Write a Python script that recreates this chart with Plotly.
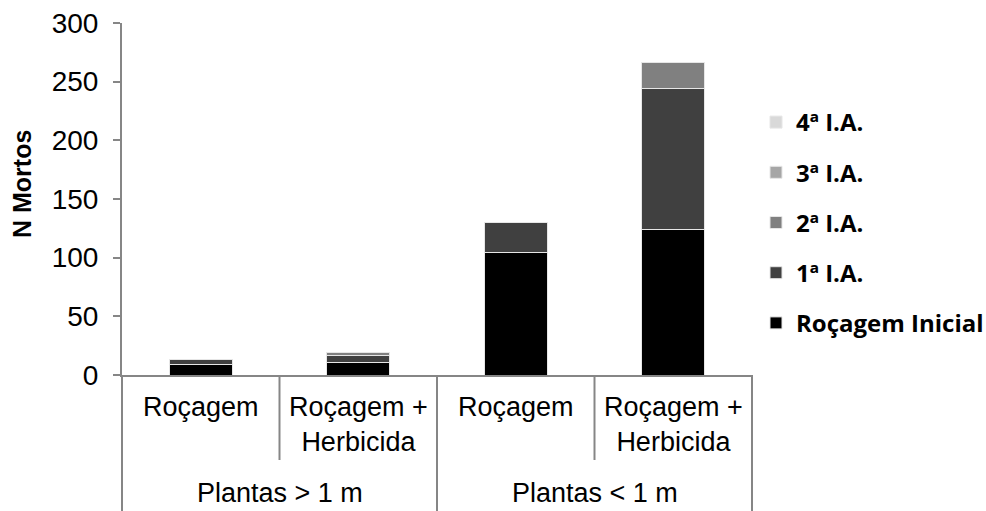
import plotly.graph_objects as go

# ---- data ----
categories = ["Roçagem", "Roçagem +<br>Herbicida", "Roçagem", "Roçagem +<br>Herbicida"]
groups = ["Plantas > 1 m", "Plantas < 1 m"]
series_names = ["Roçagem Inicial", "1ª I.A.", "2ª I.A.", "3ª I.A.", "4ª I.A."]
rocagem_inicial = [9, 10.5, 104, 124]
ia_1 = [4.5, 6.5, 26, 120]
ia_2 = [0, 2, 0, 22]
ia_3 = [0, 0, 0, 0]
ia_4 = [0, 0, 0, 0]
y_ticks = [0, 50, 100, 150, 200, 250, 300]

series_values = [rocagem_inicial, ia_1, ia_2, ia_3, ia_4]
colors = ["#000000", "#404040", "#808080", "#a6a6a6", "#d9d9d9"]

W, H = 986, 511
L, R, T, B = 122, 234, 23, 136
plot_w = W - L - R
plot_h = H - T - B
def py(p):  # pixel y -> paper y
    return (H - B - p) / plot_h
def px(p):  # pixel x -> paper x
    return (p - L) / plot_w

x_pos = list(range(len(categories)))
fig = go.Figure()
n_series = len(series_names)
for k, (name, vals, col) in enumerate(zip(series_names, series_values, colors)):
    fig.add_trace(go.Bar(
        x=x_pos, y=vals, name=name, legendgroup=name,
        legendrank=1000 + (n_series - k),
        marker=dict(color=col, line=dict(color="#e6e6e6", width=1)),
        width=0.4,
    ))

axis_col = "#868686"
shapes = []
n = len(categories)
for i in range(n + 1):
    outer = (i % 2 == 0)
    shapes.append(dict(type="line", xref="paper", yref="paper",
                       x0=i / n, x1=i / n, y0=0, y1=py(H + 5) if outer else py(460),
                       line=dict(color=axis_col, width=2)))

annotations = []
for i, c in enumerate(categories):
    annotations.append(dict(x=i, xref="x", y=py(390), yref="paper", text=c,
                            showarrow=False, yanchor="top", xanchor="center",
                            font=dict(family="Liberation Sans, Arial", size=27, color="#000")))
for g, gname in enumerate(groups):
    annotations.append(dict(x=2 * g + 0.5, xref="x", y=py(493), yref="paper", text=gname,
                            showarrow=False, yanchor="middle", xanchor="center",
                            font=dict(family="Liberation Sans, Arial", size=27, color="#000")))
annotations.append(dict(x=px(22), xref="paper", y=py(184), yref="paper",
                        text="<b>N Mortos</b>", textangle=-90, showarrow=False,
                        xanchor="center", yanchor="middle",
                        font=dict(family="Liberation Sans, Arial", size=25, color="#000")))

fig.update_layout(
    width=W, height=H,
    margin=dict(l=L, r=R, t=T, b=B, autoexpand=False),
    plot_bgcolor="white", paper_bgcolor="white",
    barmode="stack", bargap=0.6,
    showlegend=True,
    legend=dict(x=px(756), xanchor="left", y=py(100), yanchor="top",
                traceorder="grouped", tracegroupgap=16,
                font=dict(family="Open Sans, Noto Sans", size=24, color="#000", weight="bold"),
                bgcolor="rgba(0,0,0,0)"),
    xaxis=dict(range=[-0.5, n - 0.5], showticklabels=False, ticks="",
               showline=True, linecolor=axis_col, linewidth=2, showgrid=False,
               zeroline=False, fixedrange=True),
    yaxis=dict(range=[0, 300], tickvals=y_ticks, ticks="outside", ticklen=7,
               tickcolor=axis_col, tickwidth=2, showline=True, linecolor=axis_col,
               linewidth=2, showgrid=False, zeroline=False, ticklabelstandoff=9,
               automargin=False,
               tickfont=dict(family="Liberation Sans, Arial", size=28, color="#000")),
    shapes=shapes, annotations=annotations,
)
fig.write_html("out.html")
